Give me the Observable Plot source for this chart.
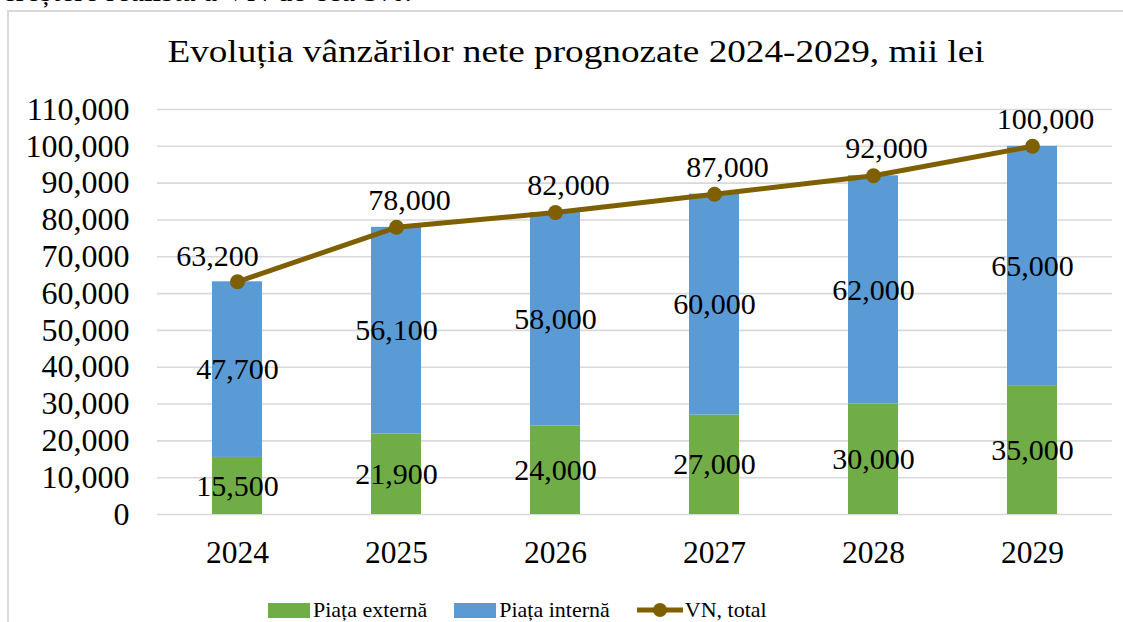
<!DOCTYPE html>
<html>
<head>
<meta charset="utf-8">
<script src="https://cdn.jsdelivr.net/npm/d3@7"></script>
<script src="https://cdn.jsdelivr.net/npm/@observablehq/plot@0.6"></script>
<style>
  body { margin: 0; background: #fff; }
  #wrap { position: relative; width: 1123px; height: 622px; overflow: hidden; background: #fff;
          font-family: "Liberation Serif", "Times New Roman", serif; color: #000; }
  #toptext { position: absolute; left: 2px; top: -25px; font-size: 31px; line-height: 31px; white-space: nowrap; }
  #box { position: absolute; left: 7px; top: 10px; right: -5px; bottom: -5px;
         border-top: 2px solid #d9d9d9; border-left: 2px solid #d9d9d9; }
  #title { position: absolute; left: 0; width: 1152px; top: 34px; text-align: center; font-size: 31px; white-space: nowrap;
           transform: scaleX(1.2); transform-origin: 576px 0; }
  #chart { position: absolute; left: 0; top: 0; }
  #legend { position: absolute; left: 268px; top: 597px; display: flex; align-items: center; font-size: 22px; white-space: nowrap; }
  .item { display: flex; align-items: center; margin-right: 27px; }
  .sw { width: 42px; height: 15px; margin-right: 3px; }
</style>
</head>
<body>
<div id="wrap">
  <div id="toptext">creștere realistă a VN de cca 5%.</div>
  <div id="box"></div>
  <div id="title">Evoluția vânzărilor nete prognozate 2024-2029, mii lei</div>
  <div id="chart"></div>
  <div id="legend"></div>
</div>
<script>
const years = ["2024", "2025", "2026", "2027", "2028", "2029"];
const seriesNames = ["Piața externă", "Piața internă"];
const lineName = "VN, total";
const external = [15500, 21900, 24000, 27000, 30000, 35000];
const internal = [47700, 56100, 58000, 60000, 62000, 65000];
const total = [63200, 78000, 82000, 87000, 92000, 100000];
const yTicks = [0, 10000, 20000, 30000, 40000, 50000, 60000, 70000, 80000, 90000, 100000, 110000];

const colors = ["#70AD47", "#5B9BD5"];
const lineColor = "#7F6000";
const fmt = d3.format(",");

const rows = years.flatMap((yr, i) => [
  {year: yr, series: seriesNames[0], value: external[i]},
  {year: yr, series: seriesNames[1], value: internal[i]}
]);
const totals = years.map((yr, i) => ({year: yr, value: total[i]}));

const chart = Plot.plot({
  width: 1123,
  height: 580,
  marginLeft: 157,
  marginRight: 11,
  marginTop: 109,
  marginBottom: 66,
  style: {fontFamily: "'Liberation Serif', 'Times New Roman', serif", fontSize: "30px", color: "#000", background: "transparent", overflow: "visible"},
  x: {domain: years, paddingInner: 0.685, paddingOuter: 0.3425, label: null},
  y: {domain: [0, 110000], label: null},
  color: {domain: seriesNames, range: colors},
  marks: [
    Plot.gridY(yTicks, {stroke: "#d9d9d9", strokeOpacity: 1, strokeWidth: 1.6}),
    Plot.axisY(yTicks, {tickSize: 0, tickPadding: 28, tickFormat: fmt, label: null, fontSize: 32}),
    Plot.axisX({tickSize: 0, tickPadding: 26, label: null, fontSize: 31.5}),
    Plot.barY(rows, {x: "year", y: "value", fill: "series"}),
    Plot.text(rows, Plot.stackY({x: "year", y: "value", z: "series", text: d => fmt(d.value), fontSize: 30, fill: "#000"})),
    Plot.line(totals, {x: "year", y: "value", stroke: lineColor, strokeWidth: 5}),
    Plot.dot(totals, {x: "year", y: "value", r: 7.5, fill: lineColor}),
    Plot.text(totals, {filter: (d, i) => i === 0, x: "year", y: "value", text: d => fmt(d.value), dx: -20, dy: -25, fontSize: 30, fill: "#000"}),
    Plot.text(totals, {filter: (d, i) => i > 0, x: "year", y: "value", text: d => fmt(d.value), dx: 13, dy: -27, fontSize: 30, fill: "#000"})
  ]
});
document.getElementById("chart").appendChild(chart);

const legend = document.getElementById("legend");
seriesNames.forEach((name, i) => {
  const it = document.createElement("div");
  it.className = "item";
  it.innerHTML = `<div class="sw" style="background:${colors[i]}"></div><span>${name}</span>`;
  legend.appendChild(it);
});
const li = document.createElement("div");
li.className = "item";
li.innerHTML = `<svg width="46" height="16" style="margin-right:2px"><line x1="0" y1="8" x2="46" y2="8" stroke="${lineColor}" stroke-width="5"/><circle cx="23" cy="8" r="7" fill="${lineColor}"/></svg><span>${lineName}</span>`;
legend.appendChild(li);
</script>
</body>
</html>
